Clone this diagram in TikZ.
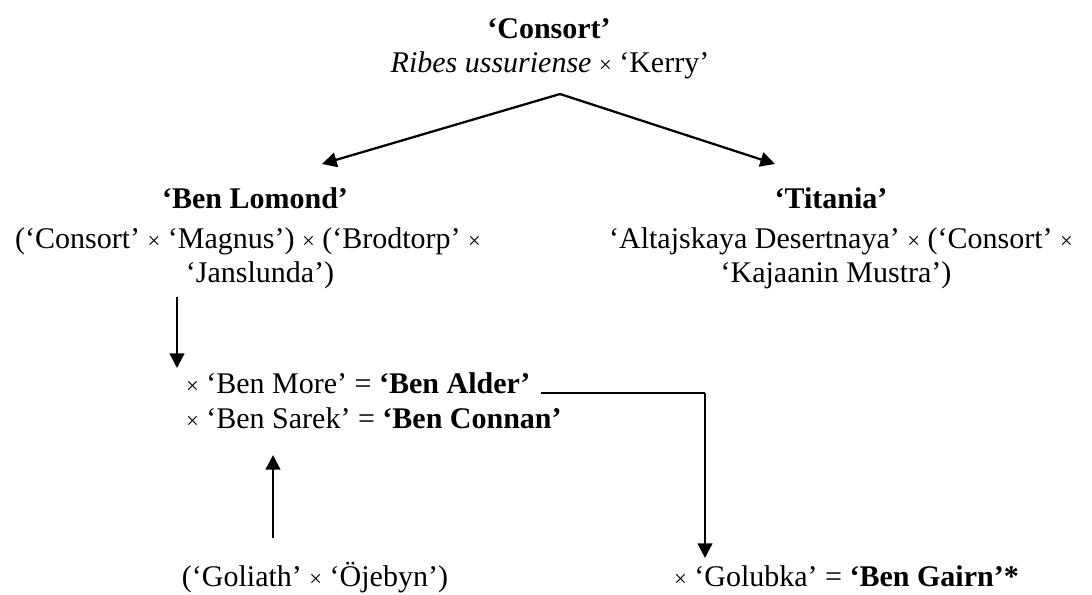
\documentclass[tikz,border=0pt]{standalone}
\usepackage{fontspec}
\setmainfont{Liberation Serif}
\usetikzlibrary{arrows.meta,calc}

\newcommand{\crs}{{\fontsize{17}{20}\selectfont ×}}

\begin{document}
\begin{tikzpicture}[
            x = 0.75pt, y = -0.75pt, % one unit per pixel
            > = {Triangle[length=11pt,width=11pt]}, % arrow head style
            line width = 1.7pt,
            every node/.style = {inner sep=0pt, anchor=base, font=\fontsize{22.5}{27}\selectfont},
            cultivar/.style = {font=\fontsize{22.5}{27}\selectfont\bfseries},
            thinline/.style = {line width=0.8pt},
        ]
  \useasboundingbox (0,0) rectangle (1092,594);

  \node[cultivar] (consort) at (549,38) {‘Consort’};
  \node (ribes) at (550,72) {\textit{Ribes ussuriense} \crs{} ‘Kerry’};

  \node[cultivar] (lomond) at (255,208) {‘Ben Lomond’};
  \node (lomondA) at (248,248) {(‘Consort’ \crs{} ‘Magnus’) \crs{} (‘Brodtorp’ \crs};
  \node (lomondB) at (260,282) {‘Janslunda’)};

  \node[cultivar] (titania) at (831,208) {‘Titania’};
  \node (titaniaA) at (841,248) {‘Altajskaya Desertnaya’ \crs{} (‘Consort’ \crs};
  \node (titaniaB) at (836,282) {‘Kajaanin Mustra’)};

  \node[anchor=base west] (alder) at (185,393) {\crs{} ‘Ben More’ = \textbf{‘Ben Alder’}};
  \node[anchor=base west] (connan) at (185,428) {\crs{} ‘Ben Sarek’ = \textbf{‘Ben Connan’}};

  \node (goliath) at (315,586) {(‘Goliath’ \crs{} ‘Öjebyn’)};
  \node[anchor=base west] (gairn) at (673,586) {\crs{} ‘Golubka’ = \textbf{‘Ben Gairn’*}};

  % arrow ends
  \coordinate (apex) at (560,94);
  \coordinate (tipL) at (322,164);
  \coordinate (tipR) at (775,164);
  \coordinate (downA) at (177,297);
  \coordinate (downB) at (177,368);
  \coordinate (upA) at (273,538);
  \coordinate (upB) at (273,455);
  \coordinate (bend) at (705,393);
  \coordinate (gairnTip) at (705,558);

  \draw[->] (apex) -- (tipL);
  \draw[->] (apex) -- (tipR);
  \draw[->] (downA) -- (downB);
  \draw[->] (upA) -- (upB);
  \draw[thinline] ($(alder.base east)+(9,0)$) -- (bend);
  \draw[->] (bend) -- (gairnTip);

\end{tikzpicture}
\end{document}
